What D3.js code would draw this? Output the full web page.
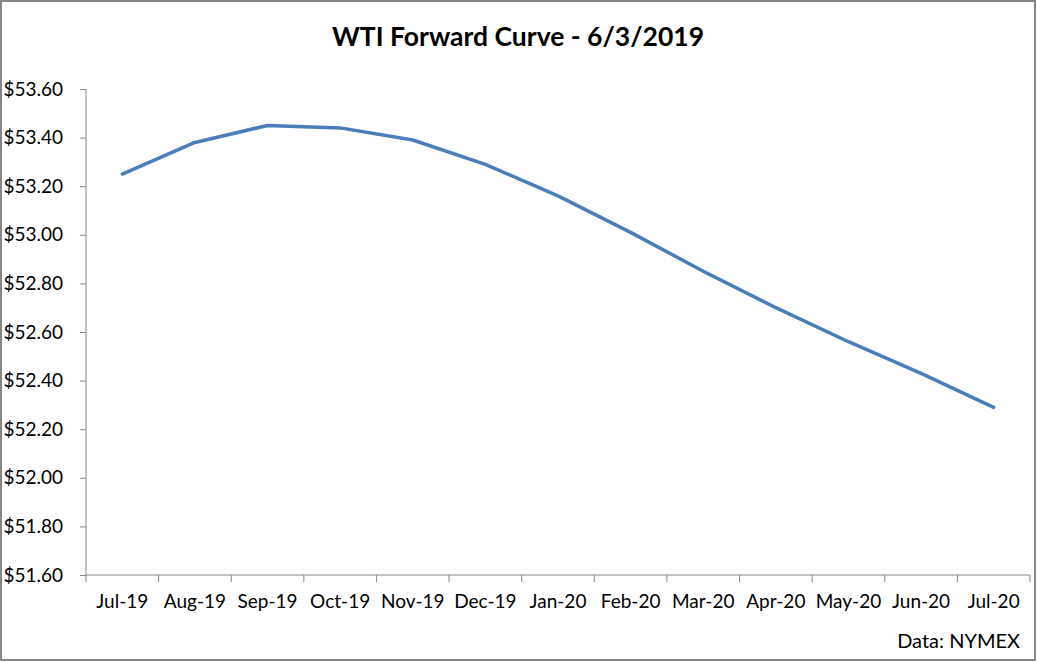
<!DOCTYPE html>
<html><head><meta charset="utf-8">
<script src="https://cdn.jsdelivr.net/npm/d3@7"></script>
<style>body{margin:0;background:#fff}svg{display:block}text{font-family:Lato,sans-serif}</style>
</head><body><svg id="c" width="1037" height="662"></svg>
<script>
const categories = ["Jul-19","Aug-19","Sep-19","Oct-19","Nov-19","Dec-19","Jan-20","Feb-20","Mar-20","Apr-20","May-20","Jun-20","Jul-20"];
const prices = [53.25,53.38,53.45,53.44,53.39,53.29,53.16,53.01,52.85,52.70,52.56,52.43,52.29];
const yTicks = [51.6,51.8,52.0,52.2,52.4,52.6,52.8,53.0,53.2,53.4,53.6];
const title = "WTI Forward Curve - 6/3/2019";
const source = "Data: NYMEX";

const svg = d3.select("#c");
svg.append("rect").attr("x",1).attr("y",1).attr("width",1034).attr("height",659)
  .attr("fill","#fff").attr("stroke","#868686").attr("stroke-width",2);

const L=86, R=1030, T=89, B=575;
const x = d3.scaleBand().domain(categories).range([L,R]);
const y = d3.scaleLinear().domain([51.6,53.6]).range([B,T]);

const yAxis = d3.axisLeft(y).tickValues(yTicks).tickSize(6).tickPadding(4).tickFormat(d=>"$"+d.toFixed(2));
const gy = svg.append("g").attr("transform",`translate(${L},0)`).call(yAxis);
gy.select(".domain").attr("stroke","#868686").attr("d",`M0,${T}V${B}`);
gy.selectAll(".tick line").attr("stroke","#868686");
gy.selectAll(".tick text").attr("font-size",19).attr("fill","#000").attr("x",-23);

const xAxis = d3.axisBottom(x).tickSize(0).tickPadding(20);
const gx = svg.append("g").attr("transform",`translate(0,${B})`).call(xAxis);
gx.select(".domain").attr("stroke","#868686").attr("d",`M${L},0H${R}`);
gx.selectAll(".tick text").attr("font-size",19).attr("fill","#000");
const bounds = categories.map(c=>x(c)).concat([R]);
gx.selectAll(".bt").data(bounds).enter().append("line").attr("class","bt")
  .attr("x1",d=>d).attr("x2",d=>d).attr("y1",0).attr("y2",7).attr("stroke","#868686");

const line = d3.line().x((d,i)=>x(categories[i])+x.bandwidth()/2).y(d=>y(d));
svg.append("path").datum(prices).attr("d",line).attr("fill","none")
  .attr("stroke","#4A7EBB").attr("stroke-width",3.5).attr("stroke-linejoin","round").attr("stroke-linecap","round");

svg.append("text").attr("x",518).attr("y",46).attr("text-anchor","middle")
  .attr("font-size",26.5).attr("font-weight","bold").text(title);
svg.append("text").attr("x",1020).attr("y",648).attr("text-anchor","end")
  .attr("font-size",20).text(source);
</script></body></html>
